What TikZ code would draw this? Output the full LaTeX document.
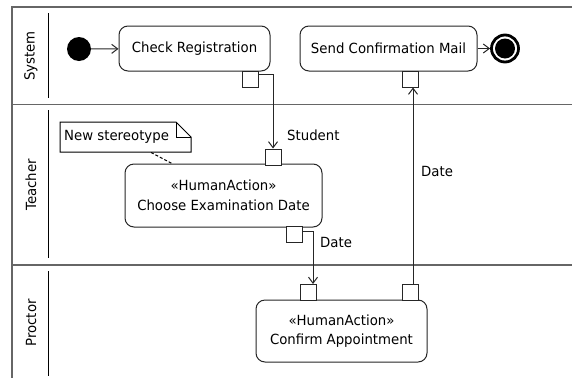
\documentclass[tikz,border=0pt]{standalone}
\usepackage{fontspec}
\setmainfont{DejaVu Sans}[FakeStretch=0.95]
\usetikzlibrary{arrows.meta,calc}
\begin{document}
\begin{tikzpicture}[x=1pt,y=-1pt,
  every node/.style={font=\fontsize{14pt}{20pt}\selectfont, inner sep=0pt},
  frameline/.style={draw=black!60, line width=1.3pt},
  laneline/.style={draw=black, line width=1pt},
  action/.style={draw=black!85, line width=1pt, rounded corners=9pt, align=center, fill=white},
  pinbox/.style={draw=black!85, line width=1pt, fill=white, minimum width=16pt, minimum height=16pt},
  flow/.style={draw=black!85, line width=1pt, -{Straight Barb[length=6pt,width=9pt,line width=1pt]}},
  lanelabel/.style={rotate=90},
  lbl/.style={anchor=west}
]
\useasboundingbox (0,0) rectangle (572,378);
% frame and lanes
\draw[frameline] (572,7) -- (12,7) -- (12,378);
\draw[frameline] (12,104.5) -- (572,104.5);
\draw[frameline] (12,265) -- (572,265);
\draw[laneline] (48,13) -- (48,98);
\draw[laneline] (48,110) -- (48,258);
\draw[laneline] (48,271) -- (48,376);
\node[lanelabel] (lsys) at (31,56) {System};
\node[lanelabel] (ltea) at (31,185) {Teacher};
\node[lanelabel] (lpro) at (31,323) {Proctor};
% nodes
\node[circle, fill=black, minimum size=24pt] (init) at (79,49) {};
\node[action, minimum width=151pt, minimum height=45pt] (check) at (194.5,48.5) {Check Registration};
\node[action, minimum width=177pt, minimum height=45pt] (send) at (388.5,48.5) {Send Confirmation Mail};
\node[circle, draw=black, line width=2.8pt, minimum size=27pt] (final) at (505,48.5) {};
\node[circle, fill=black, minimum size=20pt] (finalin) at (505,48.5) {};
\node[action, minimum width=197pt, minimum height=63pt] (choose) at (223.5,195.5) {«HumanAction»\\Choose Examination Date};
\node[action, minimum width=171pt, minimum height=62pt, font=\fontsize{14pt}{18.5pt}\selectfont] (confirm) at (341.5,331) {«HumanAction»\\Confirm Appointment};
% note
\draw[line width=1pt, fill=white] (60,122) -- (176,122) -- (191,137) -- (191,152) -- (60,152) -- cycle;
\draw[line width=1pt] (176,122) -- (176,137) -- (191,137);
\node[anchor=west] (note) at (64,136.5) {New stereotype};
\coordinate (notec) at (151,152.5);
\draw[line width=1pt, dashed, dash pattern=on 3pt off 2pt] (notec) -- (172,163.5);
% pins
\node[pinbox] (p1) at (250,79) {};
\node[pinbox] (p2) at (273,157) {};
\node[pinbox] (p3) at (294,234.5) {};
\node[pinbox] (p4) at (308,292.5) {};
\node[pinbox] (p5) at (410,292.5) {};
\node[pinbox] (p6) at (410,79) {};
% connectors
\draw[flow] (init) -- (check);
\draw[flow] (send) -- (final);
\draw[flow] ([yshift=-4pt]p1.north east) -| (p2.north);
\draw[flow] ([yshift=-5pt]p3.north east) -| ([xshift=5pt]p4.north);
\draw[flow] ([xshift=3pt]p5.north) -- ([xshift=3pt]p6.south);
% labels
\node[lbl] (lstudent) at (287,135) {Student};
\node[lbl] (ldate1) at (320,242) {Date};
\node[lbl] (ldate2) at (421,171) {Date};
\end{tikzpicture}
\end{document}
